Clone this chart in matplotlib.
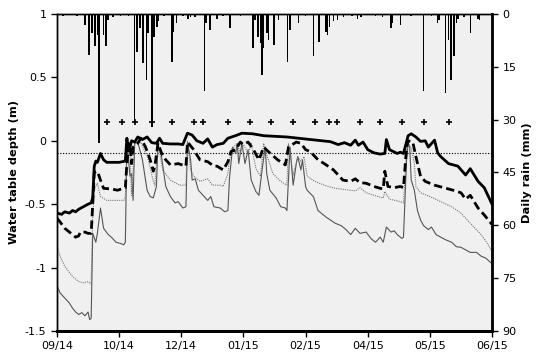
import matplotlib
matplotlib.use("Agg")
import matplotlib.pyplot as plt

# x values are days from the first date on the axis (09/14)
tick_days = [0, 40, 80, 120, 160, 200, 240, 280]
tick_labels = ["09/14", "10/14", "12/14", "01/15", "02/15", "04/15", "05/15", "06/15"]

# shallow well - thick solid
a_days = [0, 3, 5, 8, 10, 12, 14, 17, 20, 22, 23, 24, 25, 26, 28, 30, 32, 36, 40, 44,
          45, 46, 47, 48, 50, 52, 55, 58, 61, 64, 66, 68, 73, 78, 81, 84, 87, 90, 94, 97,
          100, 103, 107, 110, 116, 119, 126, 133, 148, 163, 176, 181, 185, 189, 192, 194,
          197, 200, 204, 208, 211, 212, 214, 219, 221, 223, 226, 228, 231, 234, 237, 239,
          243, 245, 247, 252, 258, 263, 266, 271, 275, 280]
a_vals = [-0.57, -0.58, -0.56, -0.57, -0.55, -0.56, -0.54, -0.52, -0.50, -0.49, -0.45, -0.2,
          -0.16, -0.17, -0.10, -0.15, -0.17, -0.17, -0.17, -0.16,
          0.02, -0.08, -0.05, 0.0, -0.01, 0.03, 0.01, 0.03, -0.015, -0.02, 0.02, -0.02,
          -0.025, -0.025, -0.03, 0.06, 0.045, 0.0, -0.02, 0.015,
          -0.05, -0.03, -0.02, 0.02, 0.045, 0.06, 0.055, 0.04, 0.03, 0.01, -0.007, -0.03,
          -0.015, -0.035, 0.005, -0.035,
          -0.01, -0.07, -0.095, -0.105, -0.1, 0.01, -0.07, -0.1, -0.09, -0.1, 0.04, 0.055,
          0.03, -0.005, 0.0, -0.05,
          0.005, -0.095, -0.125, -0.18, -0.2, -0.27, -0.22, -0.32, -0.37, -0.5]

# thick dashed
b_days = [0, 2, 5, 8, 10, 12, 14, 15, 18, 20, 22, 23, 24, 26, 28, 30, 35, 39, 44, 45, 46,
          47, 48, 49, 52, 54, 57, 60, 62, 63, 65, 68, 70, 73, 78, 83, 84, 88, 92, 97, 101,
          103, 107, 110, 112, 115, 118, 120, 123, 126, 130, 133, 136, 142, 147, 149, 154,
          157, 160, 163, 168, 172, 178, 184, 189, 192, 195, 199, 204, 208, 210, 211, 213,
          217, 221, 223, 225, 226, 229, 231, 234, 237, 243, 249, 255, 260, 263, 266, 271,
          275, 280]
b_vals = [-0.61, -0.64, -0.69, -0.72, -0.74, -0.76, -0.75, -0.72, -0.72, -0.73, -0.73, -0.5,
          -0.25, -0.24, -0.31, -0.375, -0.38, -0.39, -0.37, -0.18, -0.02,
          -0.03, -0.18, -0.05, -0.02, 0.02, -0.05, -0.15, -0.24, -0.2, -0.02, -0.12, -0.15,
          -0.19, -0.18, -0.2, -0.01, -0.07, -0.15, -0.165, -0.2,
          -0.2, -0.23, -0.165, -0.085, -0.07, -0.01, -0.03, -0.01, -0.06, -0.15, -0.05,
          -0.085, -0.15, -0.19, -0.05, -0.01,
          -0.02, -0.07, -0.085, -0.15, -0.18, -0.23, -0.31, -0.32, -0.3, -0.33, -0.335,
          -0.36, -0.375, -0.38, -0.24, -0.36,
          -0.37, -0.36, -0.37, -0.05, 0.0, -0.01, -0.125, -0.28, -0.32, -0.35, -0.37, -0.39,
          -0.41, -0.46, -0.43, -0.53, -0.585, -0.66]

# thin dotted
c_days = [0, 2, 5, 10, 14, 17, 20, 22, 23, 24, 25, 26, 28, 32, 38, 43, 44, 45, 47, 48, 50,
          54, 57, 58, 62, 63, 65, 68, 73, 79, 83, 84, 86, 88, 92, 97, 100, 105, 107, 110,
          112, 116, 118, 120, 123, 125, 128, 131, 133, 135, 139, 144, 148, 149, 152, 155,
          157, 159, 161, 166, 172, 179, 189, 192, 195, 199, 204, 208, 210, 211, 214, 221,
          223, 225, 226, 228, 230, 231, 234, 241, 247, 254, 260, 266, 273, 277, 280]
c_vals = [-0.83, -0.91, -0.99, -1.07, -1.11, -1.12, -1.11, -1.13, -0.6, -0.39, -0.36, -0.335,
          -0.44, -0.47, -0.47, -0.47, -0.44, -0.05, -0.125, -0.44, -0.02,
          -0.01, -0.1, -0.11, -0.32, -0.35, -0.02, -0.23, -0.31, -0.35, -0.35, 0.0, -0.23,
          -0.28, -0.32, -0.3, -0.35, -0.35, -0.36, -0.26,
          -0.07, -0.02, -0.1, -0.03, -0.1, -0.02, -0.22, -0.28, -0.02, -0.11, -0.26, -0.32,
          -0.35, -0.02, -0.27, -0.125,
          -0.16, -0.125, -0.28, -0.32, -0.35, -0.375, -0.39, -0.395, -0.37, -0.41, -0.43,
          -0.445, -0.45, -0.4, -0.46, -0.48,
          -0.49, -0.07, -0.02, -0.06, -0.18, -0.36, -0.41, -0.445, -0.48, -0.52, -0.57,
          -0.65, -0.74, -0.81, -0.87]

# thin solid (deepest)
d_days = [0, 2, 5, 8, 10, 12, 14, 16, 18, 20, 21, 22, 23, 25, 26, 28, 30, 33, 35, 38, 41,
          43, 44, 45, 47, 48, 49, 50, 52, 55, 58, 60, 62, 64, 65, 67, 70, 73, 76, 78, 81,
          83, 84, 86, 87, 89, 91, 94, 97, 99, 101, 105, 108, 110, 111, 113, 115, 116, 117,
          119, 121, 123, 125, 128, 130, 132, 134, 135, 137, 141, 144, 147, 148, 150, 152,
          154, 155, 157, 158, 160, 161, 165, 168, 173, 176, 179, 183, 186, 189, 192, 195,
          199, 202, 205, 208, 210, 212, 215, 217, 219, 222, 223, 225, 226, 227, 228, 230,
          232, 234, 236, 239, 241, 244, 247, 250, 254, 257, 260, 263, 266, 270, 273, 276,
          280]
d_vals = [-1.14, -1.2, -1.24, -1.28, -1.32, -1.35, -1.37, -1.355, -1.38, -1.35, -1.41, -1.40,
          -0.73, -0.8, -0.73, -0.53, -0.69, -0.74, -0.76, -0.8, -0.81,
          -0.82, -0.8, -0.01, -0.28, -0.26, -0.47, -0.02, -0.01, -0.15, -0.39, -0.44, -0.45,
          -0.36, -0.03, -0.1, -0.36, -0.44, -0.49, -0.48, -0.53,
          -0.52, -0.01, -0.15, -0.31, -0.3, -0.39, -0.43, -0.47, -0.44, -0.52, -0.53, -0.56,
          -0.55, -0.3, -0.05, -0.1, -0.02, -0.18,
          -0.02, -0.18, -0.07, -0.31, -0.4, -0.43, -0.23, -0.05, -0.26, -0.39, -0.45, -0.52,
          -0.53, -0.55, -0.05, -0.35,
          -0.18, -0.125, -0.23, -0.15, -0.36, -0.39, -0.44, -0.55, -0.6, -0.625, -0.65,
          -0.67, -0.7, -0.74, -0.69, -0.73,
          -0.72, -0.77, -0.8, -0.76, -0.8, -0.68, -0.72, -0.71, -0.74, -0.77, -0.76, -0.15,
          -0.02, -0.05, -0.31, -0.39,
          -0.55, -0.625, -0.67, -0.7, -0.68, -0.74, -0.76, -0.78, -0.8, -0.835, -0.84, -0.86,
          -0.88, -0.88, -0.91, -0.925, -0.97]

# sampling dates (+)
sample_days = [32, 42, 50, 61, 74, 88, 94, 110, 124, 138, 152, 166, 175, 180, 195, 208,
               222, 236, 252]
sample_level = 0.15

threshold = -0.1

# daily rain (mm)
rain_days = [0, 4, 9, 13, 18, 20.5, 22.5, 24.5, 26, 27, 30, 31.5, 33, 36, 41, 46, 50, 51.5,
             53.5, 55.5, 57.5, 58.5, 61, 62.5, 64.5, 65, 69, 74, 75, 77, 81, 84.5, 86, 89,
             95, 96, 98.5, 103, 107, 111.5, 118, 126, 127.5, 129.5, 131, 132, 133, 135, 136,
             139.5, 142.5, 148.5, 150, 155.5, 160, 165, 168.5, 173, 174, 175.5, 178, 180.5,
             184.5, 190, 193.5, 195.5, 200, 205, 209.5, 215, 216, 221, 228, 236, 241, 245,
             246, 250, 252, 253.5, 255.5, 257, 258, 262, 266, 271, 272]
rain_mm = [1, 0.5, 0.4, 0.6, 3, 11.6, 5.5, 9, 6, 36.5, 6, 9, 1.7, 1, 0.5, 0.6, 31, 10.7,
           4, 14, 18.7, 5.5, 32, 6.5, 3.6, 2, 0.5, 13.5, 5, 2.7, 0.6, 1.3, 1, 1,
           21.8, 2.7, 4.5, 1.5, 0.5, 4, 0.6, 9.8, 1.7, 6.4, 8.3, 17.3, 9.8, 5.5, 7.4,
           8.8, 1.7, 13.5, 4.5, 2.7, 0.5, 12, 7.9, 5, 6, 3.6, 2, 1.7,
           1, 0.5, 1.3, 1, 0.4, 0.5, 1, 4, 2.7, 3, 0.6, 22, 0.5, 2.7,
           1.7, 22.5, 7.4, 18.7, 12, 2.7, 1.3, 0.8, 5.5, 1.3, 1.7]

fig = plt.figure(figsize=(5.5, 3.58), dpi=100)
ax = fig.add_axes([0.1036, 0.0754, 0.791, 0.8856])
ax.set_facecolor("#f0f0f0")

ax.axhline(threshold, color="black", linestyle=(0, (1, 1.5)), lw=0.8, zorder=2)
ax.plot(d_days, d_vals, color="#555555", lw=0.8, zorder=3)
ax.plot(c_days, c_vals, color="#777777", lw=0.8, linestyle=(0, (1, 1)), zorder=3)
ax.plot(b_days, b_vals, color="black", lw=2.0, linestyle=(0, (3, 1.5)), zorder=4)
ax.plot(a_days, a_vals, color="black", lw=2.0, zorder=5)
ax.plot(sample_days, [sample_level] * len(sample_days), linestyle="none", marker="+",
        color="black", markersize=5, mew=1.2, zorder=5)

ax.set_xlim(0, 280)
ax.set_ylim(-1.5, 1)
ax.set_xticks(tick_days)
ax.set_xticklabels(tick_labels)
ax.set_yticks([1, 0.5, 0, -0.5, -1, -1.5])
ax.set_yticklabels(["1", "0.5", "0", "-0.5", "-1", "-1.5"])
ax.set_ylabel("Water table depth (m)", fontsize=8.2, fontweight="bold")

ax2 = ax.twinx()
ax2.bar(rain_days, rain_mm, width=1.0, color="black", zorder=3)
ax2.set_ylim(90, 0)
ax2.set_yticks([0, 15, 30, 45, 60, 75, 90])
ax2.set_ylabel("Daily rain (mm)", fontsize=8.2, fontweight="bold")

for a in (ax, ax2):
    a.tick_params(labelsize=8, direction="out", length=4, width=1, colors="black")
    for s in a.spines.values():
        s.set_color("black")
        s.set_linewidth(1)
ax2.spines["right"].set_linewidth(2)
ax2.spines["bottom"].set_linewidth(2)
ax.spines["bottom"].set_linewidth(2)

fig.savefig("out.png", dpi=100)
